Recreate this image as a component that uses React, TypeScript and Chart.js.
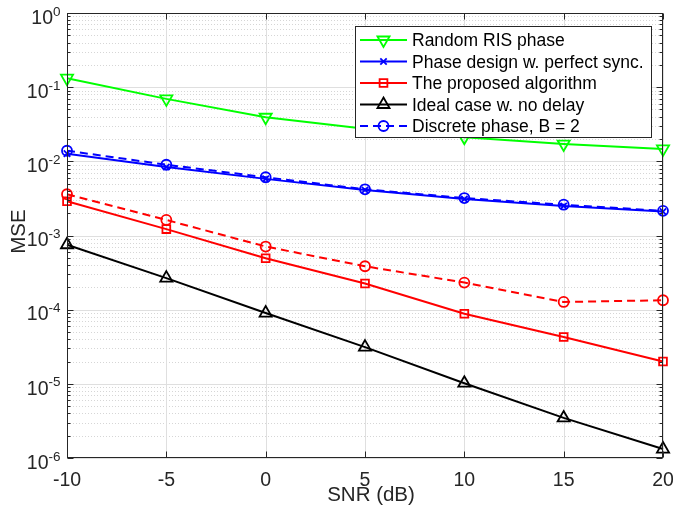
import React, { useEffect, useRef } from "react";
import { Chart, registerables } from "chart.js";
import { drawPoint } from "chart.js/helpers";

Chart.register(...registerables);

// ---------- data ----------
const snr = [-10, -5, 0, 5, 10, 15, 20];
const randomRIS = [0.132, 0.0695, 0.0393, 0.0276, 0.0211, 0.0171, 0.0147];
const perfectSync = [0.0127, 0.0084, 0.0058, 0.0041, 0.0031, 0.0025, 0.0021];
const proposed = [0.0029, 0.00122, 0.000494, 0.000225, 0.0000883, 0.0000427, 0.00002];
const ideal = [0.00075, 0.000266, 0.00009, 0.0000313, 0.0000102, 0.00000347, 0.00000132];
const discreteBlue = [0.0139, 0.009, 0.0061, 0.0042, 0.0032, 0.0026, 0.00215];
const discreteRed = [0.0036, 0.00162, 0.00071, 0.000385, 0.000232, 0.000127, 0.000134];

const seriesLabels = [
  "Random RIS phase",
  "Phase design w. perfect sync.",
  "The proposed algorithm",
  "Ideal case w. no delay",
  "Discrete phase, B = 2",
];
const xTicks = [-10, -5, 0, 5, 10, 15, 20];
const yExponents = [-6, -5, -4, -3, -2, -1, 0];
const xTitle = "SNR (dB)";
const yTitle = "MSE";

const FONT = '"Liberation Sans", Arial, Helvetica, sans-serif';
const AX = "#262626";

const pts = (arr: number[]) => snr.map((s, i) => ({ x: s, y: arr[i] }));

function mkSet(
  label: string,
  data: number[],
  color: string,
  pointStyle: string,
  radius: number,
  opts: any = {}
) {
  return {
    label,
    data: pts(data),
    borderColor: color,
    backgroundColor: "rgba(0,0,0,0)",
    pointBorderColor: color,
    pointBackgroundColor: "rgba(0,0,0,0)",
    borderWidth: 2,
    pointBorderWidth: 1.8,
    pointStyle,
    pointRadius: radius,
    pointRotation: 0,
    tension: 0,
    clip: false,
    fill: false,
    ...opts,
  };
}

const decor = {
  id: "matlabDecor",
  beforeDatasetsDraw(chart: any) {
    const { ctx, chartArea: a } = chart;
    const x = chart.scales.x;
    const y = chart.scales.y;
    ctx.save();
    ctx.lineWidth = 1;
    // minor dotted grid
    ctx.strokeStyle = "rgb(214,214,214)";
    ctx.setLineDash([1, 2]);
    for (const e of yExponents) {
      if (e === 0) continue;
      for (let m = 2; m <= 9; m++) {
        const py = Math.round(y.getPixelForValue(m * Math.pow(10, e))) + 0.5;
        ctx.beginPath();
        ctx.moveTo(a.left, py);
        ctx.lineTo(a.right, py);
        ctx.stroke();
      }
    }
    // major grid
    ctx.setLineDash([]);
    ctx.strokeStyle = "rgb(223,223,223)";
    for (const e of yExponents) {
      const py = Math.round(y.getPixelForValue(Math.pow(10, e))) + 0.5;
      ctx.beginPath();
      ctx.moveTo(a.left, py);
      ctx.lineTo(a.right, py);
      ctx.stroke();
    }
    for (const t of xTicks) {
      const px = Math.round(x.getPixelForValue(t)) + 0.5;
      ctx.beginPath();
      ctx.moveTo(px, a.top);
      ctx.lineTo(px, a.bottom);
      ctx.stroke();
    }
    ctx.restore();
  },
  afterDraw(chart: any) {
    const { ctx, chartArea: a } = chart;
    const x = chart.scales.x;
    const y = chart.scales.y;
    ctx.save();
    // axes box
    ctx.strokeStyle = AX;
    ctx.lineWidth = 1;
    const L = Math.round(a.left) + 0.5;
    const R = Math.round(a.right) - 0.5;
    const T = Math.round(a.top) + 0.5;
    const B = Math.round(a.bottom) - 0.5;
    ctx.strokeRect(L, T, R - L, B - T);
    // inward ticks
    ctx.beginPath();
    for (const t of xTicks) {
      const px = Math.round(x.getPixelForValue(t)) + 0.5;
      ctx.moveTo(px, B);
      ctx.lineTo(px, B - 6);
      ctx.moveTo(px, T);
      ctx.lineTo(px, T + 6);
    }
    for (const e of yExponents) {
      const py = Math.round(y.getPixelForValue(Math.pow(10, e))) + 0.5;
      ctx.moveTo(L, py);
      ctx.lineTo(L + 6, py);
      ctx.moveTo(R, py);
      ctx.lineTo(R - 6, py);
      if (e === 0) continue;
      for (let m = 2; m <= 9; m++) {
        const q = Math.round(y.getPixelForValue(m * Math.pow(10, e))) + 0.5;
        ctx.moveTo(L, q);
        ctx.lineTo(L + 3, q);
        ctx.moveTo(R, q);
        ctx.lineTo(R - 3, q);
      }
    }
    ctx.stroke();

    // x tick labels
    ctx.fillStyle = AX;
    ctx.font = `19.5px ${FONT}`;
    ctx.textAlign = "center";
    ctx.textBaseline = "alphabetic";
    for (const t of xTicks) {
      ctx.fillText(String(t), x.getPixelForValue(t), a.bottom + 28);
    }
    // y tick labels 10^e
    for (const e of yExponents) {
      const py = y.getPixelForValue(Math.pow(10, e));
      ctx.textAlign = "right";
      ctx.font = `13.5px ${FONT}`;
      const sup = String(e);
      const supW = ctx.measureText(sup).width;
      const right = a.left - 6.5;
      ctx.fillText(sup, right, py + 2.5);
      ctx.font = `19.5px ${FONT}`;
      ctx.fillText("10", right - supW, py + 10.7);
    }
    // axis titles
    ctx.font = `20.5px ${FONT}`;
    ctx.textAlign = "center";
    ctx.fillText(xTitle, (a.left + a.right) / 2 + 6, a.bottom + 43);
    ctx.save();
    ctx.translate(25, (a.top + a.bottom) / 2 - 4);
    ctx.rotate(-Math.PI / 2);
    ctx.fillText(yTitle, 0, 0);
    ctx.restore();

    // legend
    const lx0 = 355, ly0 = 26, lx1 = 651, ly1 = 137;
    ctx.fillStyle = "#ffffff";
    ctx.fillRect(lx0, ly0, lx1 - lx0, ly1 - ly0);
    ctx.strokeStyle = AX;
    ctx.lineWidth = 1;
    ctx.strokeRect(lx0 + 0.5, ly0 + 0.5, lx1 - lx0, ly1 - ly0);
    const sets = chart.data.datasets.filter((d: any) => !d.hideInLegend);
    sets.forEach((d: any, i: number) => {
      const cy = 40 + i * 21.5;
      ctx.save();
      ctx.strokeStyle = d.borderColor;
      ctx.lineWidth = d.borderWidth;
      ctx.setLineDash(d.borderDash || []);
      ctx.beginPath();
      ctx.moveTo(360, cy);
      ctx.lineTo(407, cy);
      ctx.stroke();
      ctx.setLineDash([]);
      ctx.fillStyle = "rgba(0,0,0,0)";
      ctx.lineWidth = d.pointBorderWidth;
      drawPoint(
        ctx,
        {
          pointStyle: d.pointStyle,
          rotation: d.pointRotation || 0,
          radius: d.pointRadius,
          borderWidth: d.pointBorderWidth,
        } as any,
        383.5,
        cy
      );
      ctx.restore();
      ctx.fillStyle = "#000";
      ctx.font = `17.5px ${FONT}`;
      ctx.textAlign = "left";
      ctx.fillText(d.label, 412, cy + 6);
    });
    ctx.restore();
  },
};

export default function App() {
  const ref = useRef<HTMLCanvasElement>(null);
  useEffect(() => {
    if (!ref.current) return;
    const chart = new Chart(ref.current, {
      type: "line",
      data: {
        datasets: [
          mkSet(seriesLabels[0], randomRIS, "#00ff00", "triangle", 7, { pointRotation: 180 }),
          mkSet(seriesLabels[1], perfectSync, "#0000ff", "crossRot", 4.5),
          mkSet(seriesLabels[2], proposed, "#ff0000", "rect", 5.5),
          mkSet(seriesLabels[3], ideal, "#000000", "triangle", 7),
          mkSet(seriesLabels[4], discreteBlue, "#0000ff", "circle", 5, { borderDash: [8, 5] }),
          mkSet("", discreteRed, "#ff0000", "circle", 5, { borderDash: [8, 5], hideInLegend: true }),
        ] as any,
      },
      options: {
        animation: false,
        responsive: false,
        layout: { padding: { left: 67, top: 13, right: 10, bottom: 50 } },
        plugins: { legend: { display: false }, tooltip: { enabled: false } },
        scales: {
          x: { type: "linear", min: -10, max: 20, display: false },
          y: { type: "logarithmic", min: 1e-6, max: 1, display: false },
        },
      },
      plugins: [decor],
    });
    return () => chart.destroy();
  }, []);
  return (
    <div style={{ position: "absolute", left: 0, top: 0, width: 673, height: 508, background: "#fff" }}>
      <canvas ref={ref} width={673} height={508} style={{ display: "block" }} />
    </div>
  );
}
